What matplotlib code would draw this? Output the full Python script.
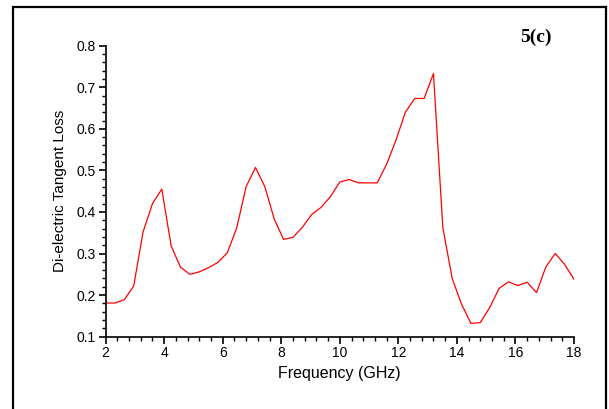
import numpy as np
import matplotlib
matplotlib.use('Agg')
import matplotlib.pyplot as plt
from matplotlib.ticker import MultipleLocator
from matplotlib.patches import Rectangle

# frequency points (GHz)
freq = [2.00, 2.32, 2.64, 2.96, 3.28, 3.60, 3.92, 4.24, 4.56, 4.88,
        5.20, 5.52, 5.84, 6.16, 6.48, 6.80, 7.12, 7.44, 7.76, 8.08,
        8.40, 8.72, 9.04, 9.36, 9.68, 10.00, 10.32, 10.64, 10.96, 11.28,
        11.60, 11.92, 12.24, 12.56, 12.88, 13.20, 13.52, 13.84, 14.16, 14.48,
        14.80, 15.12, 15.44, 15.76, 16.08, 16.40, 16.72, 17.04, 17.36, 17.68,
        18.00]

# dielectric tangent loss
tan_loss = [0.181, 0.181, 0.189, 0.222, 0.352, 0.420, 0.455, 0.318, 0.267, 0.250,
            0.256, 0.266, 0.279, 0.302, 0.362, 0.461, 0.507, 0.461, 0.383, 0.334,
            0.339, 0.363, 0.394, 0.411, 0.437, 0.472, 0.478, 0.470, 0.470, 0.470,
            0.515, 0.573, 0.640, 0.673, 0.673, 0.733, 0.362, 0.240, 0.178, 0.132,
            0.134, 0.170, 0.216, 0.232, 0.223, 0.231, 0.206, 0.268, 0.300, 0.274,
            0.238]

plt.rcParams['font.family'] = ['Liberation Sans', 'DejaVu Sans']

fig = plt.figure(figsize=(6.09, 4.09), dpi=100)
ax = fig.add_axes([0.1734, 0.1768, 0.7691, 0.7115])

ax.plot(freq, tan_loss, color='red', linewidth=0.9)

ax.set_xlim(2, 18)
ax.set_ylim(0.1, 0.8)
ax.xaxis.set_major_locator(MultipleLocator(2))
ax.xaxis.set_minor_locator(MultipleLocator(0.4))
ax.yaxis.set_major_locator(MultipleLocator(0.1))
ax.yaxis.set_minor_locator(MultipleLocator(0.02))
ax.yaxis.set_major_formatter(plt.FuncFormatter(lambda v, p: '{:.1f}'.format(v)))

for side in ['top', 'right']:
    ax.spines[side].set_visible(False)
for side in ['left', 'bottom']:
    ax.spines[side].set_linewidth(1.2)

ax.tick_params(which='major', direction='out', length=5, width=1.2, labelsize=10, pad=2)
ax.tick_params(which='minor', direction='out', length=3, width=1.0)

ax.set_xlabel('Frequency (GHz)', fontsize=11.5, labelpad=4)
ax.set_ylabel('Di-electric Tangent Loss', fontsize=11, labelpad=7)

fig.text(536 / 609, 1 - 37 / 409, '5(c)', fontsize=14, fontweight='bold',
         family='Liberation Serif', ha='center', va='center')

# outer frame around the panel
fig.patches.append(Rectangle((13 / 609, -0.05), (606 - 13) / 609, 1.05 - 7 / 409,
                             transform=fig.transFigure, fill=False,
                             edgecolor='black', linewidth=1.6))

fig.savefig('out.png', dpi=100)
